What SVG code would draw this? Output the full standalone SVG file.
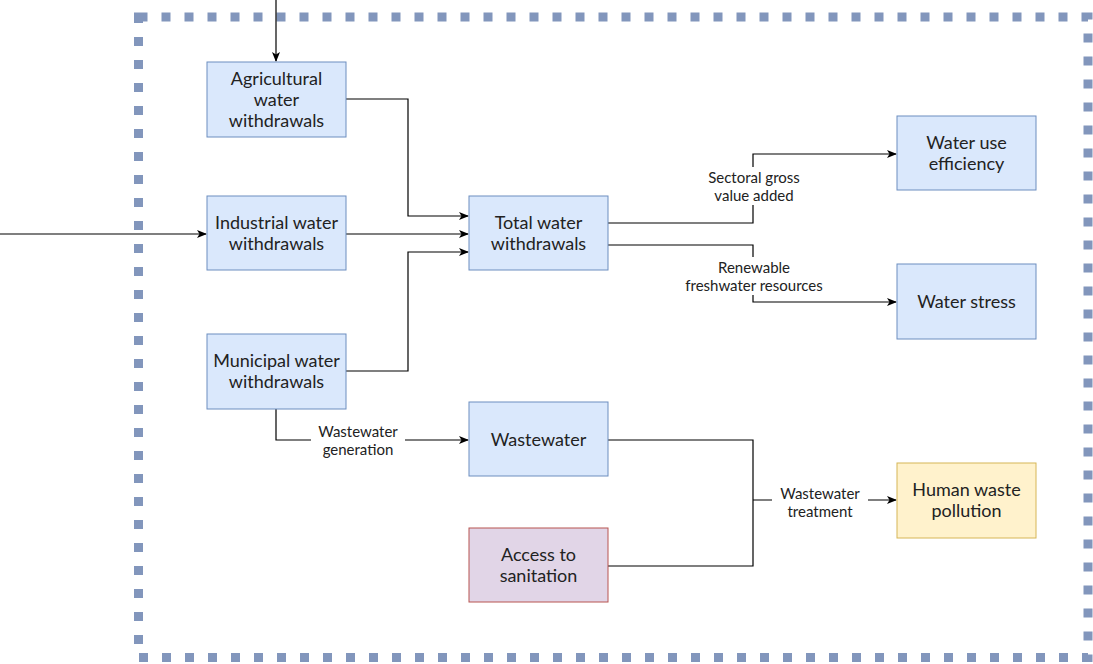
<svg xmlns="http://www.w3.org/2000/svg" width="1093" height="664" viewBox="0 0 1093 664">
<style>
.n{stroke-width:1}
.b{fill:#dae8fc;stroke:#6c8ebf}
.p{fill:#e1d5e7;stroke:#b85450}
.y{fill:#fff2cc;stroke:#d6b656}
.t{font-family:Lato,"Liberation Sans",sans-serif;font-size:18px;fill:#222;text-anchor:middle}
.l{font-family:Lato,"Liberation Sans",sans-serif;font-size:15px;fill:#222;text-anchor:middle}
.c{fill:none;stroke:#000;stroke-width:1.2}
.bg{fill:#fff}
</style>
<defs>
<marker id="a" viewBox="0 0 10 10" refX="9" refY="5" markerWidth="10" markerHeight="10" markerUnits="userSpaceOnUse" orient="auto">
<path d="M0,1 L10,5 L0,9 L2.5,5 Z" fill="#000"/>
</marker>
</defs>
<rect x="138.5" y="17" width="949.5" height="640.5" fill="none" stroke="#8296bc" stroke-width="9" stroke-dasharray="9 14"/>
<g id="connectors">
<path class="c" d="M276,0 V61" marker-end="url(#a)"/>
<path class="c" d="M0,234 H206" marker-end="url(#a)"/>
<path class="c" d="M346,99 H408 V216 H468" marker-end="url(#a)"/>
<path class="c" d="M346,234 H468" marker-end="url(#a)"/>
<path class="c" d="M346,371 H408 V252 H468" marker-end="url(#a)"/>
<path class="c" d="M608,223 H753 V154 H896" marker-end="url(#a)"/>
<path class="c" d="M608,245 H753 V302 H896" marker-end="url(#a)"/>
<path class="c" d="M276,409 V440 H468" marker-end="url(#a)"/>
<path class="c" d="M608,440 H753 V566 H608"/>
<path class="c" d="M753,500 H896" marker-end="url(#a)"/>
<rect class="bg" x="698" y="167" width="112" height="38"/>
<text class="l" x="754" y="183">Sectoral gross</text>
<text class="l" x="754" y="201">value added</text>
<rect class="bg" x="676" y="257" width="156" height="38"/>
<text class="l" x="754" y="273">Renewable</text>
<text class="l" x="754" y="291">freshwater resources</text>
<rect class="bg" x="311" y="421" width="94" height="38"/>
<text class="l" x="358" y="437">Wastewater</text>
<text class="l" x="358" y="455">generation</text>
<rect class="bg" x="772" y="483" width="96" height="38"/>
<text class="l" x="820" y="499">Wastewater</text>
<text class="l" x="820" y="517">treatment</text>
</g>
<g id="agri"><rect class="n b" x="207" y="62" width="139" height="75"/>
<text class="t" x="276.5" y="85">Agricultural</text><text class="t" x="276.5" y="106">water</text><text class="t" x="276.5" y="127">withdrawals</text></g>
<g id="industrial"><rect class="n b" x="207" y="196" width="139" height="74"/>
<text class="t" x="276.5" y="229">Industrial water</text><text class="t" x="276.5" y="250">withdrawals</text></g>
<g id="municipal"><rect class="n b" x="207" y="334" width="139" height="75"/>
<text class="t" x="276.5" y="367">Municipal water</text><text class="t" x="276.5" y="388">withdrawals</text></g>
<g id="total"><rect class="n b" x="469" y="196" width="139" height="74"/>
<text class="t" x="538.5" y="229">Total water</text><text class="t" x="538.5" y="250">withdrawals</text></g>
<g id="wastewater"><rect class="n b" x="469" y="402" width="139" height="74"/>
<text class="t" x="538.5" y="446">Wastewater</text></g>
<g id="sanitation"><rect class="n p" x="469" y="528" width="139" height="74"/>
<text class="t" x="538.5" y="561">Access to</text><text class="t" x="538.5" y="582">sanitation</text></g>
<g id="efficiency"><rect class="n b" x="897" y="116" width="139" height="74"/>
<text class="t" x="966.5" y="149">Water use</text><text class="t" x="966.5" y="170">efficiency</text></g>
<g id="stress"><rect class="n b" x="897" y="264" width="139" height="75"/>
<text class="t" x="966.5" y="308">Water stress</text></g>
<g id="pollution"><rect class="n y" x="897" y="463" width="139" height="75"/>
<text class="t" x="966.5" y="496">Human waste</text><text class="t" x="966.5" y="517">pollution</text></g>
</svg>
